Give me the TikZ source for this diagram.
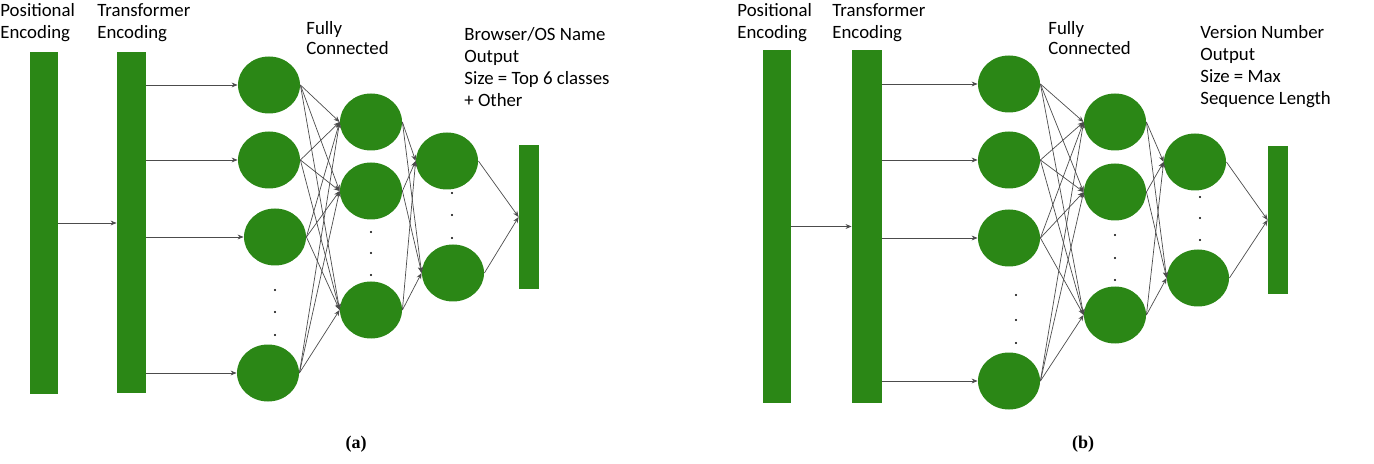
\documentclass[tikz,border=0pt]{standalone}
\usepackage{fontspec}
\setmainfont{Carlito}
\newfontfamily\capfont{Liberation Serif}
\usetikzlibrary{shapes.geometric,arrows.meta}
\definecolor{nngreen}{RGB}{43,135,22}
\tikzset{
  neuron/.style={ellipse, fill=nngreen, minimum width=31pt, minimum height=28.5pt, inner sep=0pt},
  bar/.style={rectangle, fill=nngreen, inner sep=0pt},
  conn/.style={draw=black!70, line width=0.35pt, -{Stealth[length=3pt,width=2.4pt]}},
  txt/.style={anchor=north west, align=left, inner sep=0pt, font=\fontsize{9.4}{11}\selectfont},
  vdot/.style={circle, fill=black, inner sep=0pt, minimum size=1.2pt},
  subcap/.style={font=\capfont\bfseries\fontsize{9}{10}\selectfont, inner sep=0pt},
}
\begin{document}
\begin{tikzpicture}[x=0.5pt, y=-0.5pt]
    \useasboundingbox (0,0) rectangle (1374,464);
    % (a) browser / OS name
    \node [bar, minimum width=14pt, minimum height=171pt] (pa) at (44,223) {};
    \node [bar, minimum width=14.5pt, minimum height=170.5pt] (ta) at (131.5,222.5) {};
    \node [neuron] (a11) at (269,85) {};
    \node [neuron] (a12) at (269,160) {};
    \node [neuron] (a13) at (275,237) {};
    \node [neuron] (a14) at (268,373) {};
    \node [neuron] (a21) at (371,122) {};
    \node [neuron] (a22) at (371,191) {};
    \node [neuron] (a23) at (371,310) {};
    \node [neuron] (a31) at (447,161) {};
    \node [neuron] (a32) at (453,273) {};
    \node [bar, minimum width=10pt, minimum height=72pt] (oa) at (529,217) {};
    \foreach \y in {290,312,335} \node [vdot] at (275,\y) {};
    \foreach \y in {232,253,275} \node [vdot] at (371,\y) {};
    \foreach \y in {193,215,238} \node [vdot] at (452,\y) {};
    \draw [conn] (pa.east) -- (pa.east -| ta.west);
    \foreach \i in {1,...,4} \draw [conn] (a1\i -| ta.east) -- (a1\i.west);
    \foreach \i in {1,...,4} \foreach \j in {1,2,3} \draw [conn] (a1\i.east) -- (a2\j.west);
    \foreach \i in {1,2,3} \foreach \j in {1,2} \draw [conn] (a2\i.east) -- (a3\j.west);
    \foreach \i in {1,2} \draw [conn] (a3\i.east) -- (oa.west);
    \node [txt] (pal) at (0,3) {Positional\\Encoding};
    \node [txt] (tal) at (97,3) {Transformer\\Encoding};
    \node [txt, font=\fontsize{9.4}{10.2}\selectfont] (fal) at (306,21) {Fully\\Connected};
    \node [txt] (oal) at (464,27) {Browser/OS Name\\Output\\Size = Top 6 classes\\+ Other};
    \node [subcap] (capa) at (356,444) {(a)};
    % (b) version number
    \node [bar, minimum width=14pt, minimum height=176.5pt] (pb) at (777,226.5) {};
    \node [bar, minimum width=15pt, minimum height=176.5pt] (tb) at (867,226.5) {};
    \node [neuron] (b11) at (1009,84) {};
    \node [neuron] (b12) at (1009,160) {};
    \node [neuron] (b13) at (1009,238) {};
    \node [neuron] (b14) at (1009,381) {};
    \node [neuron] (b21) at (1115,122) {};
    \node [neuron] (b22) at (1115,192) {};
    \node [neuron] (b23) at (1115,315) {};
    \node [neuron] (b31) at (1195,162) {};
    \node [neuron] (b32) at (1198,278) {};
    \node [bar, minimum width=10pt, minimum height=74pt] (ob) at (1278,220) {};
    \foreach \y in {295,320,343} \node [vdot] at (1016,\y) {};
    \foreach \y in {235,258,280} \node [vdot] at (1115,\y) {};
    \foreach \y in {197,218,240} \node [vdot] at (1200,\y) {};
    \draw [conn] (pb.east) -- (pb.east -| tb.west);
    \foreach \i in {1,...,4} \draw [conn] (b1\i -| tb.east) -- (b1\i.west);
    \foreach \i in {1,...,4} \foreach \j in {1,2,3} \draw [conn] (b1\i.east) -- (b2\j.west);
    \foreach \i in {1,2,3} \foreach \j in {1,2} \draw [conn] (b2\i.east) -- (b3\j.west);
    \foreach \i in {1,2} \draw [conn] (b3\i.east) -- (ob.west);
    \node [txt] (pbl) at (737,3) {Positional\\Encoding};
    \node [txt] (tbl) at (832,3) {Transformer\\Encoding};
    \node [txt, font=\fontsize{9.4}{10.2}\selectfont] (fbl) at (1048,21) {Fully\\Connected};
    \node [txt] (obl) at (1200,25) {Version Number\\Output\\Size = Max\\Sequence Length};
    \node [subcap] (capb) at (1083,444) {(b)};
\end{tikzpicture}
\end{document}
